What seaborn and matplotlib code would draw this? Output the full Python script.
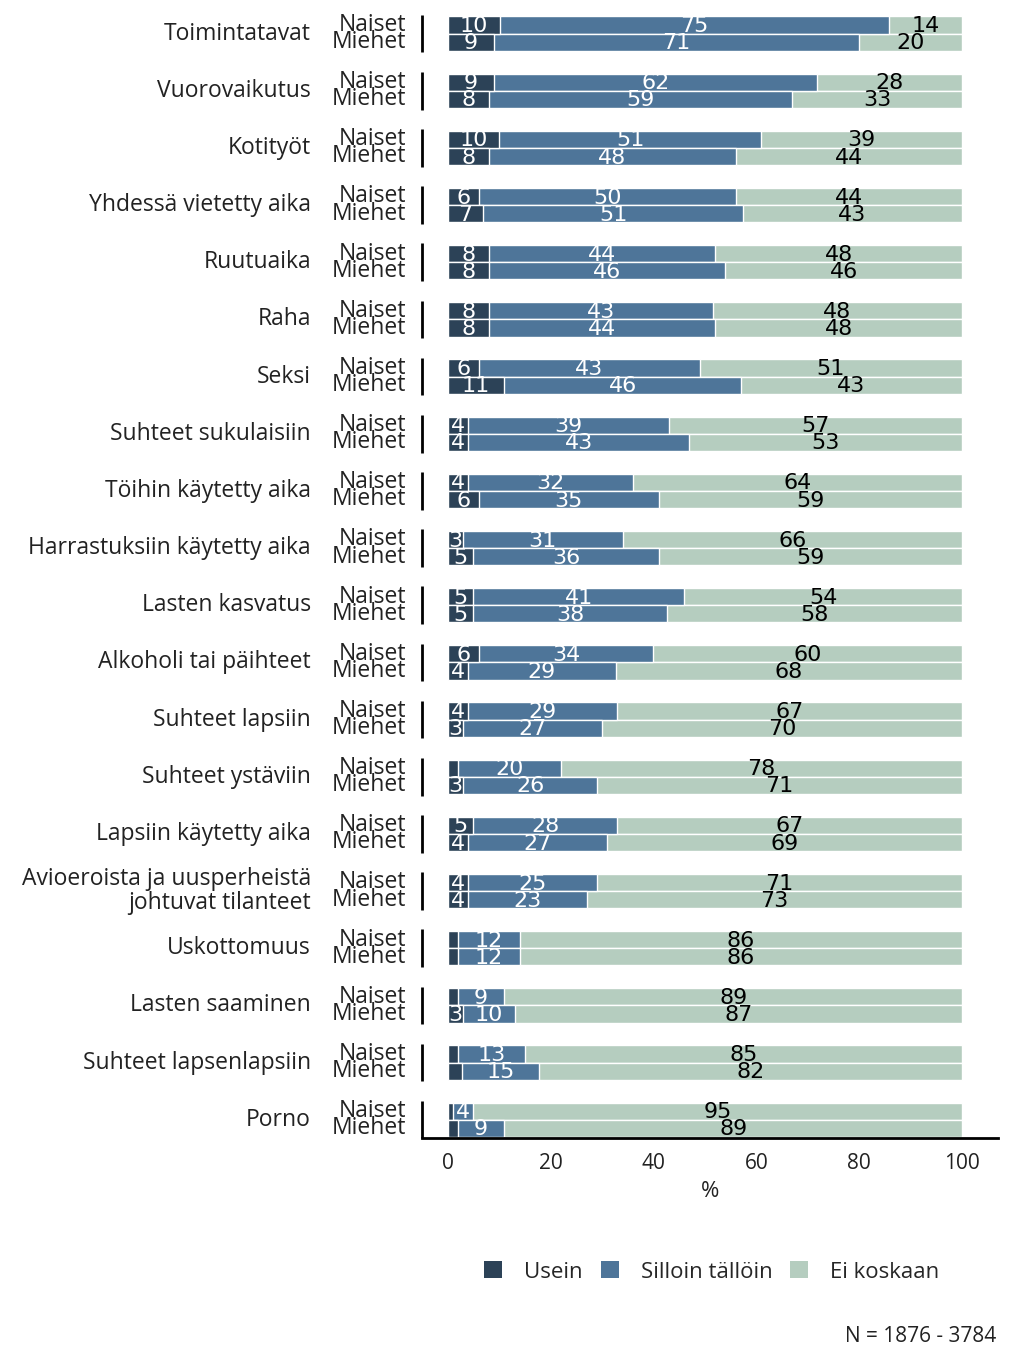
import matplotlib
matplotlib.use("Agg")
import matplotlib.pyplot as plt
import matplotlib.patches as mpatches
import seaborn as sns
import pandas as pd
import numpy as np

categories = ["Toimintatavat", "Vuorovaikutus", "Kotityöt", "Yhdessä vietetty aika",
              "Ruutuaika", "Raha", "Seksi", "Suhteet sukulaisiin", "Töihin käytetty aika",
              "Harrastuksiin käytetty aika", "Lasten kasvatus", "Alkoholi tai päihteet",
              "Suhteet lapsiin", "Suhteet ystäviin", "Lapsiin käytetty aika",
              "Avioeroista ja uusperheistä\njohtuvat tilanteet", "Uskottomuus",
              "Lasten saaminen", "Suhteet lapsenlapsiin", "Porno"]
genders = ["Naiset", "Miehet"]
series_names = ["Usein", "Silloin tällöin", "Ei koskaan"]

naiset_usein = [10, 9, 10, 6, 8, 8, 6, 4, 4, 3, 5, 6, 4, 2, 5, 4, 2, 2, 2, 1]
naiset_silloin = [75, 62, 51, 50, 44, 43, 43, 39, 32, 31, 41, 34, 29, 20, 28, 25, 12, 9, 13, 4]
naiset_ei = [14, 28, 39, 44, 48, 48, 51, 57, 64, 66, 54, 60, 67, 78, 67, 71, 86, 89, 85, 95]
miehet_usein = [9, 8, 8, 7, 8, 8, 11, 4, 6, 5, 5, 4, 3, 3, 4, 4, 2, 3, 2.8, 2]
miehet_silloin = [71, 59, 48, 51, 46, 44, 46, 43, 35, 36, 38, 29, 27, 26, 27, 23, 12, 10, 15, 9]
miehet_ei = [20, 33, 44, 43, 46, 48, 43, 53, 59, 59, 58, 68, 70, 71, 69, 73, 86, 87, 82, 89]

colors = ["#2c4257", "#4e7599", "#b5cdbf"]
label_colors = ["white", "white", "black"]

rows = []
for i, c in enumerate(categories):
    for g, (u, s, e) in zip(genders, [(naiset_usein[i], naiset_silloin[i], naiset_ei[i]),
                                       (miehet_usein[i], miehet_silloin[i], miehet_ei[i])]):
        tot = u + s + e
        rows.append(dict(cat=c, gender=g, usein=u, silloin=s, ei=e,
                         c1=u / tot * 100, c2=(u + s) / tot * 100, c3=100.0))
df = pd.DataFrame(rows)

sns.set_theme(style="white")
plt.rcParams["font.family"] = ["Open Sans", "DejaVu Sans"]

fig = plt.figure(figsize=(10.24, 13.6), dpi=100)
ax = fig.add_axes([422 / 1024, 1 - 1138 / 1360, (998 - 422) / 1024, (1138 - 13) / 1360])

for col, color in zip(["c3", "c2", "c1"], colors[::-1]):
    sns.barplot(data=df, x=col, y="cat", hue="gender", hue_order=genders, order=categories,
                palette=[color, color], orient="h", width=0.6, dodge=True, ax=ax,
                edgecolor="white", linewidth=1.0, legend=False, errorbar=None, saturation=1)

ax.set_xlim(-5, 107)
ax.set_ylim(19.32, -0.36)
for s in ["top", "right", "left"]:
    ax.spines[s].set_visible(False)
ax.spines["bottom"].set_linewidth(2)
ax.spines["bottom"].set_color("black")
ax.set_yticks([])
ax.set_ylabel("")
ax.set_xticks([0, 20, 40, 60, 80, 100])
ax.set_xticklabels(["0", "20", "40", "60", "80", "100"])
ax.tick_params(axis="x", length=0, pad=11, labelsize=15, labelcolor="#222222")
ax.set_xlabel("%", fontsize=16, labelpad=5, color="#222222")

valfont = dict(family=["Liberation Sans Narrow", "DejaVu Sans"], fontsize=16)

for i, c in enumerate(categories):
    ax.plot([-5, -5], [i - 0.33, i + 0.33 if i < len(categories) - 1 else 19.32],
            color="black", lw=2, solid_capstyle="butt", clip_on=False)
    ax.text(-26.6, i, c, ha="right", va="center", fontsize=16.5, color="#222222",
            linespacing=0.95, clip_on=False)
    for off, g in [(-0.15, "Naiset"), (0.15, "Miehet")]:
        ax.text(-8.0, i + off, g, ha="right", va="center", fontsize=16.5, color="#222222",
                clip_on=False)
        r = df[(df.cat == c) & (df.gender == g)].iloc[0]
        bounds = [0, r.c1, r.c2, r.c3]
        vals = [r.usein, r.silloin, r.ei]
        for k in range(3):
            if vals[k] >= 3:
                ax.text((bounds[k] + bounds[k + 1]) / 2, i + off + 0.02, f"{round(vals[k]):d}",
                        ha="center", va="center", color=label_colors[k], **valfont)

handles = [mpatches.Patch(facecolor=col, edgecolor="none", label=n) for col, n in zip(colors, series_names)]
fig.legend(handles=handles, loc="center", bbox_to_anchor=(712 / 1024, 1 - 1272 / 1360), ncol=3,
           frameon=False, fontsize=16, handlelength=0.8, handleheight=0.8, columnspacing=0.8,
           handletextpad=1.0)

fig.text(996 / 1024, 1 - 1336 / 1360, "N = 1876 - 3784", ha="right", va="center", fontsize=15,
         color="#222222")

fig.savefig("out.png", dpi=100)
